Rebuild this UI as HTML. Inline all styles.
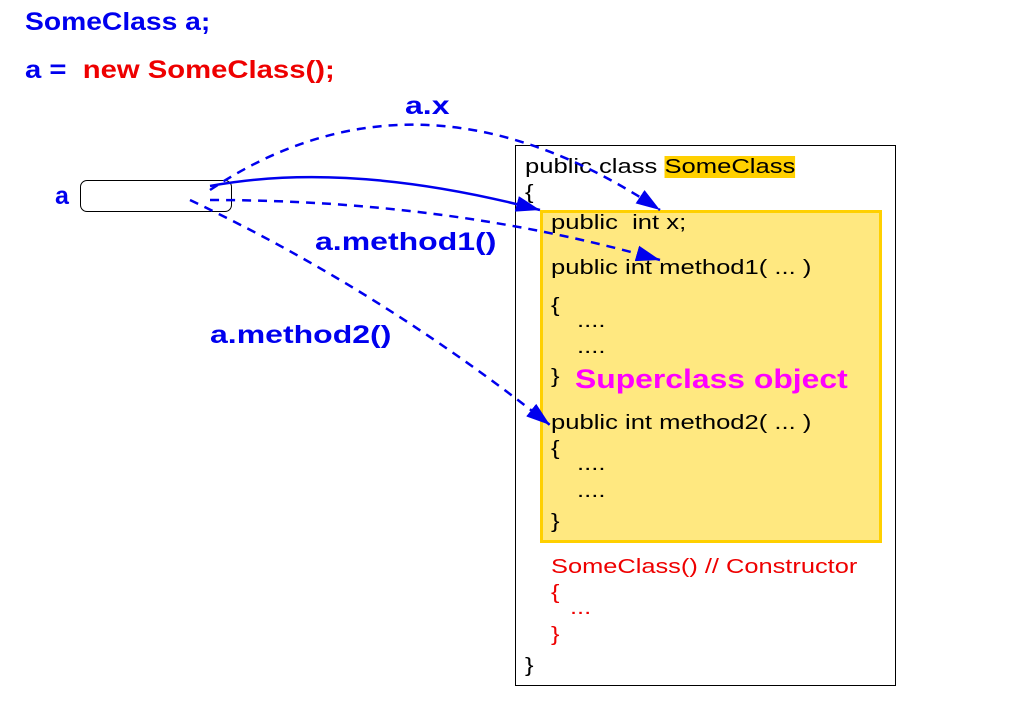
<!DOCTYPE html>
<html><head><style>
body{margin:0;width:1020px;height:721px;background:#fff;position:relative;overflow:hidden;font-family:"Liberation Sans",sans-serif;}
.t{position:absolute;white-space:nowrap;transform-origin:0 0;}
.b{color:#0000ee;font-weight:bold;font-size:25px;}
.k{color:#000;font-size:20px;transform:scaleX(1.28);}
.r{color:#ee0000;font-size:20px;transform:scaleX(1.27);}
.l{transform:scaleX(1.28);}
</style></head><body>
<div class="t b" style="left:25px;top:8px;transform:scaleX(1.13)">SomeClass a;</div>
<div class="t b" style="left:25px;top:56px;transform:scaleX(1.17)">a = <span style="color:#ee0000">&nbsp;new SomeClass();</span></div>
<div class="t b" style="left:55px;top:182px;">a</div>
<div style="position:absolute;left:80px;top:180px;width:150px;height:30px;border:1px solid #000;border-radius:7px;"></div>
<div style="position:absolute;left:515px;top:145px;width:379px;height:539px;border:1px solid #000;"></div>
<div style="position:absolute;left:540px;top:210px;width:336px;height:327px;background:#ffe880;border:3px solid #ffd000;"></div>
<div class="t k" style="left:525px;top:156px;">public class <span style="background:#ffd000">SomeClass</span></div>
<div class="t k" style="left:525px;top:182px;">{</div>
<div class="t k" style="left:551px;top:212px;">public &nbsp;int x;</div>
<div class="t k" style="left:551px;top:257px;">public int method1( ... )</div>
<div class="t k" style="left:551px;top:295px;">{</div>
<div class="t k" style="left:577px;top:310px;">....</div>
<div class="t k" style="left:577px;top:336px;">....</div>
<div class="t k" style="left:551px;top:366px;">}</div>
<div class="t" style="left:575px;top:364px;color:#ff00ff;font-weight:bold;font-size:27px;transform:scaleX(1.18)">Superclass object</div>
<div class="t k" style="left:551px;top:412px;">public int method2( ... )</div>
<div class="t k" style="left:551px;top:438px;">{</div>
<div class="t k" style="left:577px;top:453px;">....</div>
<div class="t k" style="left:577px;top:480px;">....</div>
<div class="t k" style="left:551px;top:511px;">}</div>
<div class="t r" style="left:551px;top:556px;">SomeClass() // Constructor</div>
<div class="t r" style="left:551px;top:582px;">{</div>
<div class="t r" style="left:570px;top:597px;">...</div>
<div class="t r" style="left:551px;top:624px;">}</div>
<div class="t k" style="left:525px;top:655px;">}</div>
<div class="t b l" style="left:405px;top:92px;">a.x</div>
<div class="t b l" style="left:315px;top:228px;">a.method1()</div>
<div class="t b l" style="left:210px;top:321px;">a.method2()</div>
<svg width="1020" height="721" style="position:absolute;left:0;top:0">
<defs>
<marker id="a" markerWidth="24" markerHeight="16" refX="24" refY="8" orient="auto" markerUnits="userSpaceOnUse"><path d="M0,0L24,8L0,16z" fill="#0000ee"/></marker></defs>
<g fill="none" stroke="#0000ee" stroke-width="2.5">
<path d="M210,190 Q420,50 660,210" stroke-dasharray="9,7" marker-end="url(#a)"/>
<path d="M210,186 Q350,160 540,210" marker-end="url(#a)"/>
<path d="M210,200 Q450,200 660,260" stroke-dasharray="9,7" marker-end="url(#a)"/>
<path d="M190,200 Q380,290 550,425" stroke-dasharray="9,7" marker-end="url(#a)"/>
</g></svg>
</body></html>
